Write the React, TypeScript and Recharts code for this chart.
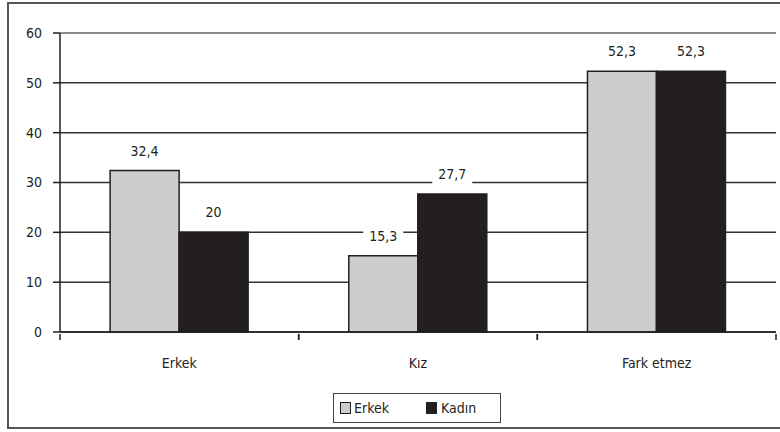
import React from 'react';
import { BarChart, Bar, XAxis, YAxis, CartesianGrid, ReferenceLine, Legend, LabelList } from 'recharts';

const categories = ['Erkek', 'Kız', 'Fark etmez'];
const erkek = [32.4, 15.3, 52.3];
const kadin = [20, 27.7, 52.3];
const yTicks = [0, 10, 20, 30, 40, 50, 60];

const data = categories.map((name, i) => ({ name, erkek: erkek[i], kadin: kadin[i] }));

const INK = '#231f20';
const GRAY = '#cdcdcd';
const FONT = '"DejaVu Sans Condensed", "DejaVu Sans", sans-serif';

const fmt = (v: number) => String(v).replace('.', ',');

// value label with a white patch behind it, so gridlines do not cross the text
const ValueLabel = (props: any) => {
  const { x, y, width, value } = props;
  const cx = x + width / 2;
  return (
    <g>
      <rect x={cx - 20} y={y - 31} width={40} height={21} fill="#fff" />
      <text x={cx} y={y - 15} textAnchor="middle" fontSize={14} fill={INK} fontFamily={FONT} style={{ fontStretch: 'condensed' }}>
        {fmt(value)}
      </text>
    </g>
  );
};

// category label plus the small tick marks at the band edges
const CategoryTick = (props: any) => {
  const { x, y, payload } = props;
  const half = payload.offset || 0;
  return (
    <g>
      <line x1={x - half} y1={y} x2={x - half} y2={y + 6} stroke={INK} strokeWidth={1.5} />
      <line x1={x + half} y1={y} x2={x + half} y2={y + 6} stroke={INK} strokeWidth={1.5} />
      <text x={x} y={y + 34} textAnchor="middle" fontSize={14} fill={INK} fontFamily={FONT} style={{ fontStretch: 'condensed' }}>
        {payload.value}
      </text>
    </g>
  );
};

const LegendBox = () => (
  <div
    style={{
      width: 168,
      height: 30,
      border: '1.5px solid #444',
      display: 'flex',
      alignItems: 'center',
      boxSizing: 'border-box',
      fontFamily: FONT,
      fontStretch: 'condensed',
      fontSize: 14,
      color: INK,
    }}
  >
    <span style={{ width: 9, height: 10, background: GRAY, border: `1.5px solid ${INK}`, marginLeft: 6, marginRight: 3 }} />
    <span style={{ width: 72 }}>Erkek</span>
    <span style={{ width: 9, height: 10, background: INK, border: `1.5px solid ${INK}`, marginRight: 4 }} />
    <span>Kadın</span>
  </div>
);

export default function App() {
  return (
    <div style={{ position: 'absolute', left: 0, top: 0, width: 780, height: 432, background: '#fff', fontFamily: FONT, fontStretch: 'condensed', overflow: 'hidden' }}>
      <div
        style={{
          position: 'absolute',
          left: 7,
          top: 2,
          width: 780,
          height: 427,
          border: '2px solid #555',
          boxSizing: 'border-box',
        }}
      />
      <div style={{ position: 'absolute', left: 0, top: 0 }}>
        <BarChart
          width={780}
          height={432}
          data={data}
          margin={{ top: 33, right: 4, left: 0, bottom: 40 }}
          barCategoryGap="21%"
          barGap={0}
        >
          <CartesianGrid vertical={false} stroke="#333" strokeWidth={1.5} />
          <ReferenceLine y={60} stroke="#9a9a9a" strokeWidth={1.5} />
          <XAxis
            dataKey="name"
            height={60}
            tickLine={false}
            tickSize={0}
            interval={0}
            axisLine={{ stroke: INK, strokeWidth: 1.5 }}
            tick={<CategoryTick />}
          />
          <YAxis
            width={60}
            domain={[0, 60]}
            ticks={yTicks}
            tickSize={7}
            tickMargin={11}
            axisLine={{ stroke: INK, strokeWidth: 1.5 }}
            tickLine={{ stroke: INK, strokeWidth: 1.5 }}
            tick={{ fill: INK, fontSize: 14, fontFamily: FONT, style: { fontStretch: 'condensed' } }}
          />
          <YAxis
            yAxisId="right"
            orientation="right"
            width={0}
            domain={[0, 60]}
            tick={false}
            tickLine={false}
            axisLine={{ stroke: '#9a9a9a', strokeWidth: 1.5 }}
          />
          <Legend
            layout="horizontal"
            verticalAlign="middle"
            align="center"
            wrapperStyle={{ position: 'absolute', left: 333, top: 393, width: 170 }}
            content={<LegendBox />}
          />
          <Bar dataKey="erkek" name="Erkek" fill={GRAY} stroke={INK} strokeWidth={1.5} isAnimationActive={false}>
            <LabelList dataKey="erkek" content={<ValueLabel />} />
          </Bar>
          <Bar dataKey="kadin" name="Kadın" fill={INK} stroke={INK} strokeWidth={1.5} isAnimationActive={false}>
            <LabelList dataKey="kadin" content={<ValueLabel />} />
          </Bar>
        </BarChart>
      </div>
    </div>
  );
}
